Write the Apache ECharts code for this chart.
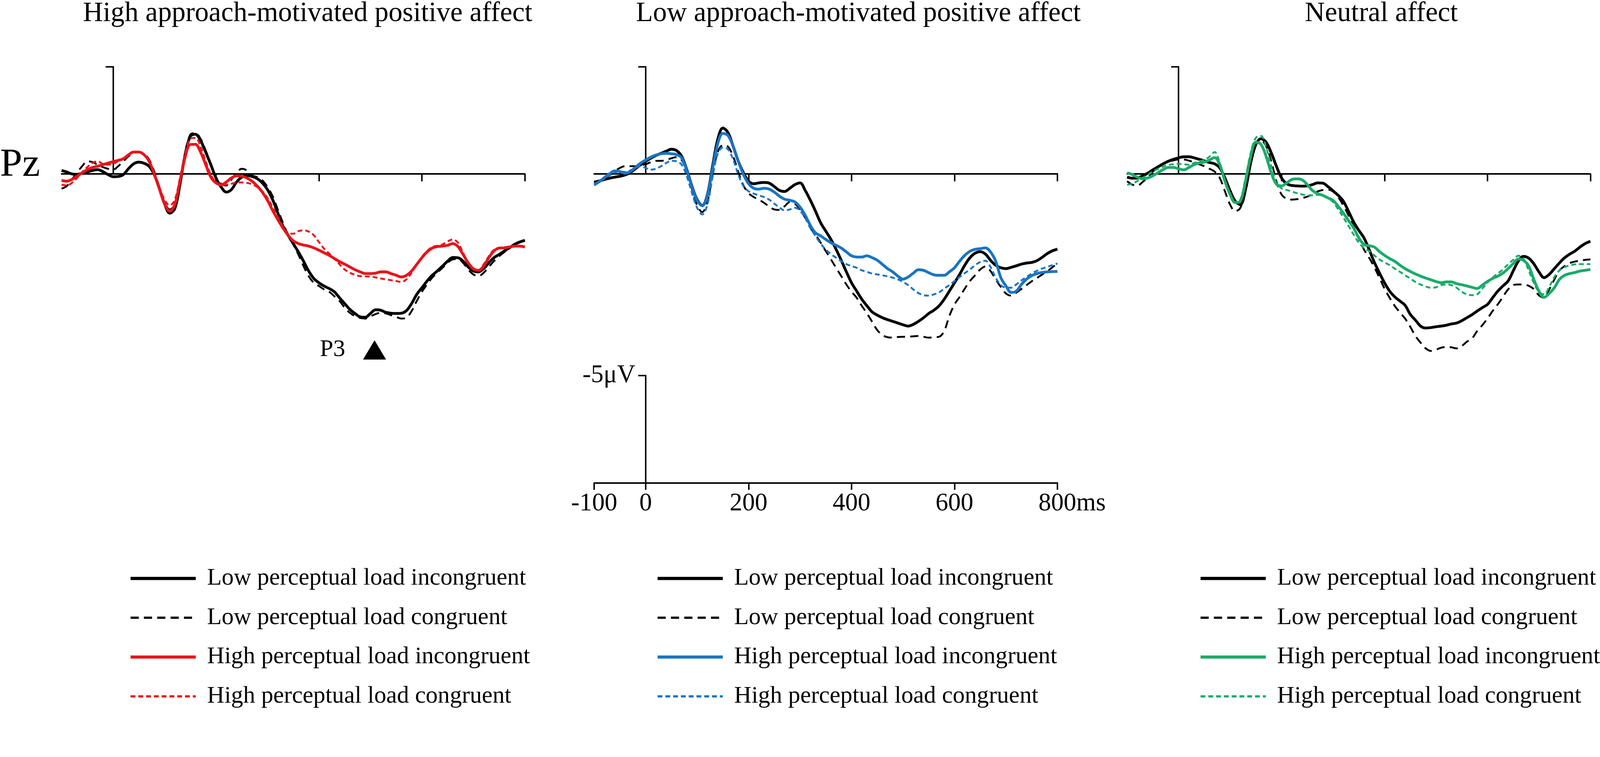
<!DOCTYPE html>
<html>
<head>
<meta charset="utf-8">
<script src="https://cdn.jsdelivr.net/npm/echarts@6/dist/echarts.min.js"></script>
<style>
html,body{margin:0;padding:0;background:#ffffff;overflow:hidden;}
#chart{width:100vw;height:100vh;}
</style>
</head>
<body>
<div id="chart"></div>
<script>
// ---- Data (μV, positive plotted downward; sampled every 10 ms) ----
const timesMs = [-100,-90,-80,-70,-60,-50,-40,-30,-20,-10,
  0,10,20,30,40,50,60,70,80,90,
  100,110,120,130,140,150,160,170,180,190,
  200,210,220,230,240,250,260,270,280,290,
  300,310,320,330,340,350,360,370,380,390,
  400,410,420,430,440,450,460,470,480,490,
  500,510,520,530,540,550,560,570,580,590,
  600,610,620,630,640,650,660,670,680,690,
  700,710,720,730,740,750,760,770,780,790,800];

const panelTitles = ['High approach-motivated positive affect','Low approach-motivated positive affect','Neutral affect'];
const conditionNames = ['Low perceptual load incongruent','Low perceptual load congruent','High perceptual load incongruent','High perceptual load congruent'];
const xTickValues = [200,400,600,800];
const scaleTickValues = [-100,0,200,400,600,800];
const p3Marker = [508, 8.21];

// Panel 1: High approach-motivated positive affect
const p1LowIncong = [-0.16,-0.09,0,0.02,-0.03,-0.09,-0.16,-0.2,-0.11,0.03,
  0.13,0.12,0.03,-0.24,-0.47,-0.55,-0.5,-0.36,0.03,0.69,
  1.39,1.83,1.62,0.5,-0.9,-1.75,-1.85,-1.56,-1.02,-0.43,
  0.19,0.61,0.85,0.73,0.38,0.15,0.07,0.12,0.22,0.42,
  0.73,1.2,1.82,2.44,2.86,3.25,3.64,4.07,4.53,4.88,
  5.08,5.23,5.35,5.5,5.78,6.05,6.32,6.51,6.67,6.69,
  6.51,6.34,6.36,6.46,6.5,6.51,6.5,6.38,6.05,5.62,
  5.31,5.0,4.73,4.53,4.3,4.07,3.9,3.91,4.07,4.34,
  4.53,4.57,4.42,4.15,3.91,3.76,3.6,3.45,3.29,3.18,3.1];
const p1LowCong = [0.69,0.57,0.26,-0.05,-0.36,-0.59,-0.55,-0.43,-0.32,-0.24,
  -0.2,-0.36,-0.59,-0.82,-0.98,-1.02,-0.94,-0.67,-0.12,0.61,
  1.31,1.66,1.43,0.42,-0.98,-1.83,-1.91,-1.64,-1.09,-0.47,
  0.15,0.46,0.54,0.26,-0.05,-0.24,-0.16,0.07,0.15,0.3,
  0.61,1.04,1.66,2.28,2.83,3.29,3.76,4.3,4.77,5.08,
  5.23,5.39,5.5,5.71,5.93,6.24,6.48,6.63,6.72,6.75,
  6.65,6.54,6.48,6.51,6.59,6.67,6.75,6.71,6.4,5.93,
  5.5,5.16,4.84,4.61,4.38,4.15,3.99,3.97,4.15,4.46,
  4.69,4.77,4.61,4.34,4.07,3.84,3.65,3.45,3.29,3.18,3.1];
const p1HighIncong = [0.3,0.34,0.26,0.11,-0.05,-0.2,-0.3,-0.36,-0.43,-0.5,
  -0.57,-0.63,-0.71,-0.89,-1.02,-1.02,-0.9,-0.59,0,0.69,
  1.39,1.74,1.43,0.34,-0.78,-1.37,-1.38,-1.02,-0.43,0.15,
  0.42,0.51,0.38,0.19,0.09,0.11,0.19,0.34,0.56,0.85,
  1.23,1.7,2.13,2.52,2.86,3.12,3.25,3.32,3.37,3.45,
  3.56,3.68,3.8,3.95,4.09,4.21,4.34,4.47,4.57,4.65,
  4.65,4.63,4.57,4.57,4.65,4.73,4.81,4.73,4.53,4.22,
  3.91,3.64,3.46,3.39,3.37,3.33,3.25,3.39,3.76,4.15,
  4.42,4.5,4.3,3.91,3.6,3.46,3.45,3.41,3.37,3.37,3.41];
const p1HighCong = [0.5,0.54,0.42,0.19,-0.09,-0.32,-0.51,-0.59,-0.47,-0.43,
  -0.47,-0.59,-0.71,-0.89,-1.0,-1.02,-0.92,-0.63,-0.05,0.61,
  1.2,1.47,1.2,0.19,-0.94,-1.64,-1.68,-1.29,-0.59,0.03,
  0.38,0.5,0.5,0.46,0.4,0.4,0.42,0.48,0.61,0.81,
  1.12,1.55,2.01,2.44,2.75,2.79,2.67,2.63,2.69,2.86,
  3.18,3.49,3.72,3.95,4.22,4.46,4.61,4.71,4.77,4.78,
  4.79,4.83,4.88,4.92,4.96,5.0,5.04,4.92,4.61,4.22,
  3.87,3.6,3.41,3.35,3.29,3.15,3.06,3.21,3.68,4.15,
  4.46,4.52,4.22,3.84,3.54,3.45,3.41,3.41,3.39,3.39,3.39];

// Panel 2: Low approach-motivated positive affect
const p2LowIncong = [0.38,0.33,0.26,0.2,0.15,0.11,0.05,-0.06,-0.24,-0.42,
  -0.59,-0.73,-0.86,-0.96,-1.06,-1.15,-1.09,-0.82,-0.2,0.57,
  1.2,1.47,0.96,-0.36,-1.6,-2.14,-1.93,-1.29,-0.59,-0.05,
  0.34,0.46,0.42,0.4,0.43,0.59,0.77,0.82,0.67,0.5,
  0.42,0.77,1.23,1.74,2.28,2.67,3.06,3.52,4.03,4.57,
  5.08,5.47,5.85,6.16,6.44,6.59,6.71,6.8,6.88,6.96,
  7.04,7.1,7.02,6.88,6.71,6.51,6.36,6.16,5.85,5.47,
  5.08,4.69,4.26,3.91,3.7,3.63,3.74,4.03,4.26,4.38,
  4.42,4.36,4.29,4.21,4.16,4.13,4.05,3.9,3.72,3.59,3.51];
const p2LowCong = [0.42,0.33,0.23,0.07,-0.12,-0.28,-0.36,-0.36,-0.36,-0.4,
  -0.45,-0.55,-0.61,-0.61,-0.65,-0.73,-0.78,-0.65,-0.09,0.73,
  1.47,1.78,1.31,0.03,-1.02,-1.34,-1.27,-0.82,-0.09,0.54,
  0.9,1.08,1.2,1.35,1.52,1.66,1.68,1.51,1.31,1.39,
  1.66,2.05,2.52,2.83,3.21,3.6,3.99,4.38,4.77,5.16,
  5.5,5.78,6.16,6.51,6.9,7.29,7.52,7.62,7.64,7.61,
  7.6,7.59,7.58,7.56,7.6,7.64,7.62,7.6,7.33,6.63,
  6.09,5.74,5.35,5.0,4.73,4.46,4.32,4.53,4.92,5.27,
  5.58,5.68,5.54,5.37,5.19,5.01,4.86,4.7,4.55,4.36,4.18];
const p2HighIncong = [0.5,0.36,0.17,-0.01,-0.14,-0.11,-0.03,-0.11,-0.3,-0.5,
  -0.65,-0.78,-0.88,-0.94,-0.96,-0.94,-0.9,-0.75,-0.16,0.61,
  1.23,1.49,1.0,-0.24,-1.41,-1.89,-1.79,-1.29,-0.59,0.03,
  0.46,0.67,0.71,0.67,0.71,0.85,1.04,1.18,1.23,1.31,
  1.55,1.93,2.4,2.75,2.89,3.06,3.21,3.33,3.46,3.64,
  3.82,3.88,3.88,3.82,3.91,4.03,4.22,4.42,4.57,4.77,
  4.91,4.81,4.63,4.47,4.5,4.61,4.71,4.73,4.73,4.57,
  4.38,4.07,3.8,3.61,3.52,3.49,3.45,3.64,4.07,4.84,
  5.23,5.53,5.47,5.16,4.91,4.75,4.65,4.6,4.57,4.56,4.55];
const p2HighCong = [0.54,0.38,0.23,0.07,-0.06,-0.12,-0.09,-0.16,-0.28,-0.36,
  -0.28,-0.2,-0.24,-0.36,-0.51,-0.61,-0.59,-0.43,0.11,0.89,
  1.58,1.89,1.43,0.15,-0.94,-1.23,-1.15,-0.67,0.03,0.57,
  0.81,0.92,1.0,1.08,1.2,1.39,1.57,1.7,1.66,1.58,
  1.72,2.05,2.52,2.9,3.25,3.53,3.74,3.91,4.07,4.21,
  4.3,4.38,4.5,4.57,4.65,4.69,4.73,4.78,4.84,4.92,
  5.04,5.19,5.39,5.56,5.66,5.68,5.62,5.53,5.35,5.19,
  5.0,4.81,4.63,4.46,4.26,4.11,4.05,4.34,4.84,5.19,
  5.31,5.31,5.16,4.97,4.81,4.65,4.52,4.42,4.34,4.26,4.18];

// Panel 3: Neutral affect
const p3LowIncong = [0.15,0.2,0.19,0.09,-0.03,-0.19,-0.33,-0.47,-0.59,-0.68,
  -0.75,-0.8,-0.8,-0.75,-0.68,-0.61,-0.53,-0.47,-0.28,0.19,
  0.79,1.27,1.43,0.73,-0.51,-1.37,-1.64,-1.48,-0.98,-0.36,
  0.19,0.46,0.54,0.56,0.57,0.56,0.5,0.42,0.43,0.59,
  0.79,1.0,1.27,1.74,2.24,2.63,2.98,3.52,4.11,4.61,
  5.08,5.47,5.74,5.93,6.13,6.55,6.82,7.1,7.19,7.17,
  7.13,7.1,7.06,7.0,6.96,6.85,6.71,6.57,6.4,6.24,
  6.09,5.78,5.47,5.23,5.0,4.53,4.07,3.85,3.93,4.19,
  4.57,4.84,4.69,4.42,4.15,3.91,3.74,3.6,3.41,3.25,3.14];
const p3LowCong = [0.34,0.5,0.54,0.38,0.15,-0.11,-0.3,-0.45,-0.57,-0.63,
  -0.67,-0.67,-0.62,-0.54,-0.45,-0.36,-0.24,-0.11,0.19,0.81,
  1.43,1.74,1.58,0.73,-0.59,-1.44,-1.56,-1.29,-0.59,0.34,
  0.96,1.16,1.2,1.18,1.13,1.06,0.95,0.82,0.75,0.73,
  0.82,1.08,1.47,1.93,2.44,3.02,3.52,3.91,4.34,4.84,
  5.35,5.78,6.16,6.47,6.75,7.13,7.56,7.87,8.14,8.26,
  8.2,8.11,8.07,8.09,8.14,8.03,7.83,7.68,7.33,7.06,
  6.75,6.4,6.09,5.74,5.39,5.19,5.16,5.16,5.22,5.37,
  5.66,5.78,5.39,4.92,4.5,4.3,4.16,4.09,4.05,4.01,3.99];
const p3HighIncong = [-0.05,0.03,0.15,0.23,0.19,0.09,-0.06,-0.2,-0.3,-0.3,
  -0.24,-0.19,-0.3,-0.43,-0.51,-0.55,-0.65,-0.76,-0.43,0.34,
  0.96,1.34,1.27,0.34,-0.82,-1.48,-1.38,-0.82,-0.05,0.48,
  0.56,0.42,0.26,0.23,0.28,0.5,0.77,0.92,1.0,1.12,
  1.23,1.51,1.82,2.17,2.52,2.98,3.29,3.35,3.41,3.62,
  3.8,3.95,4.08,4.26,4.42,4.55,4.67,4.77,4.86,4.94,
  5.02,5.08,5.04,5.04,5.12,5.17,5.23,5.29,5.35,5.19,
  5.02,4.88,4.77,4.63,4.42,4.19,3.97,4.03,4.3,4.92,
  5.47,5.76,5.58,5.31,4.92,4.73,4.65,4.6,4.53,4.5,4.46];
const p3HighCong = [0.5,0.46,0.33,0.19,0.05,-0.11,-0.23,-0.34,-0.42,-0.45,
  -0.47,-0.45,-0.43,-0.51,-0.59,-0.65,-0.81,-1.02,-0.51,0.34,
  0.96,1.31,1.2,0.19,-0.98,-1.68,-1.77,-1.25,-0.36,0.42,
  0.67,0.75,0.82,0.9,0.96,1.0,1.0,0.98,1.0,1.12,
  1.31,1.65,2.03,2.42,2.83,3.21,3.45,3.6,3.8,3.99,
  4.13,4.26,4.42,4.57,4.73,4.88,5.04,5.16,5.25,5.31,
  5.29,5.19,5.16,5.19,5.31,5.5,5.62,5.66,5.62,5.35,
  5.08,4.84,4.65,4.46,4.22,4.01,3.82,3.95,4.5,5.08,
  5.5,5.62,5.27,4.81,4.5,4.35,4.27,4.22,4.21,4.21,4.21];

const panelData = [
  [p1LowIncong, p1LowCong, p1HighIncong, p1HighCong],
  [p2LowIncong, p2LowCong, p2HighIncong, p2HighCong],
  [p3LowIncong, p3LowCong, p3HighIncong, p3HighCong]
];
const highColors = ['#e8141c', '#1a74c2', '#1aab6a'];

// ---- Layout (designed for 4317 x 1937, scaled to the actual viewport) ----
const el = document.getElementById('chart');
const s = Math.min(el.clientWidth / 4317, el.clientHeight / 1937);
const S = v => v * s;
const FONT = "'Times New Roman','Liberation Serif',serif";
const zeroX = [305, 1742, 3180];     // x of 0 ms per panel (design px)
const PX_PER_MS = 1250 / 900;
const PX_PER_UV = 57.8;
const zeroY = 469;
const Y_MIN = -5, Y_MAX = 9;
const legendLeft = [348, 1770, 3235];
const titleX = [830, 2316, 3727];
const AXW = 4;

const grids = [], xAxes = [], yAxes = [], series = [], legends = [];
const gridLeft = p => zeroX[p] - 100 * PX_PER_MS;
const plotTop = zeroY + Y_MIN * PX_PER_UV;
const axisLineStyle = {color: '#000', width: S(AXW)};

function addGrid(g, xa, ya) {
  const idx = grids.length;
  grids.push(g);
  xa.gridIndex = idx; ya.gridIndex = idx;
  xAxes.push(xa); yAxes.push(ya);
  return idx;
}

const dataGridIdx = [];
for (let p = 0; p < 3; p++) {
  dataGridIdx.push(addGrid(
    {left: S(gridLeft(p)), width: S(1250), top: S(plotTop), height: S((Y_MAX - Y_MIN) * PX_PER_UV)},
    {type: 'value', min: -100, max: 800,
     axisLine: {show: true, onZero: true, lineStyle: axisLineStyle},
     axisTick: {show: true, customValues: xTickValues, length: S(20), lineStyle: axisLineStyle},
     axisLabel: {show: false}, splitLine: {show: false}},
    {type: 'value', min: Y_MIN, max: Y_MAX, inverse: true, show: false, splitLine: {show: false}}
  ));
  // vertical -5 μV stub at 0 ms
  addGrid(
    {left: S(zeroX[p]), width: S(100), top: S(plotTop), height: S(5 * PX_PER_UV)},
    {type: 'value', min: 0, max: 100, show: false},
    {type: 'value', min: -5, max: 0, inverse: true, position: 'left',
     axisLine: {show: true, onZero: false, lineStyle: axisLineStyle},
     axisTick: {show: true, customValues: [-5], length: S(20), lineStyle: axisLineStyle},
     axisLabel: {show: false}, splitLine: {show: false}}
  );
}
// scale bar: time axis
addGrid(
  {left: S(gridLeft(1)), width: S(1250), top: S(1013), height: S(5 * PX_PER_UV)},
  {type: 'value', min: -100, max: 800, position: 'bottom',
   axisLine: {show: true, onZero: false, lineStyle: axisLineStyle},
   axisTick: {show: true, customValues: scaleTickValues, length: S(19), lineStyle: axisLineStyle},
   axisLabel: {show: true, customValues: scaleTickValues, margin: S(22), color: '#000', fontSize: S(68), fontFamily: FONT,
     formatter: v => v === 800 ? '{p| }800ms' : String(v), rich: {p: {width: S(79)}}},
   splitLine: {show: false}},
  {type: 'value', min: -5, max: 0, inverse: true, show: false}
);
// scale bar: -5 μV axis
addGrid(
  {left: S(zeroX[1]), width: S(100), top: S(1013), height: S(5 * PX_PER_UV)},
  {type: 'value', min: 0, max: 100, show: false},
  {type: 'value', min: -5, max: 0, inverse: true, position: 'left',
   axisLine: {show: true, onZero: false, lineStyle: axisLineStyle},
   axisTick: {show: true, customValues: [-5], length: S(20), lineStyle: axisLineStyle},
   axisLabel: {show: true, customValues: [-5], formatter: () => '-5μV', margin: S(28), color: '#000', fontSize: S(68), fontFamily: FONT},
   splitLine: {show: false}}
);

// series + legends
for (let p = 0; p < 3; p++) {
  const legendItems = [];
  panelData[p].forEach((vals, k) => {
    const isHigh = k >= 2;
    const dashed = k % 2 === 1;
    const color = isHigh ? highColors[p] : '#000000';
    const name = conditionNames[k] + '#' + p;
    const dash = dashed ? (isHigh ? [S(13), S(8)] : [S(22), S(14)]) : 'solid';
    const width = dashed ? S(5) : S(7.5);
    legendItems.push({name: name, lineStyle: {color: color, width: dashed ? S(6) : S(8.5), type: dash}});
    series.push({
      type: 'line', name: name, xAxisIndex: dataGridIdx[p], yAxisIndex: dataGridIdx[p],
      data: timesMs.map((t, i) => [t, vals[i]]),
      symbol: 'none', showSymbol: false, smooth: 0.35,
      lineStyle: {color: color, width: width, type: dash, cap: 'butt'},
      itemStyle: {color: color},
      z: 3 + k, silent: true
    });
  });
  legends.push({
    left: S(legendLeft[p]), top: S(1527), orient: 'vertical', padding: 0,
    itemWidth: S(176), itemHeight: S(20), itemGap: S(40), selectedMode: false,
    data: legendItems, formatter: n => n.split('#')[0],
    itemStyle: {opacity: 0},
    textStyle: {color: '#000', fontSize: S(65), fontFamily: FONT, lineHeight: S(66), padding: [0, 0, 0, S(25)]}
  });
}
// P3 marker in panel 1
series.push({
  type: 'scatter', name: 'P3', xAxisIndex: dataGridIdx[0], yAxisIndex: dataGridIdx[0],
  data: [p3Marker], symbol: 'triangle', symbolSize: [S(62), S(52)],
  itemStyle: {color: '#000000', opacity: 1}, silent: true, z: 10,
  label: {show: true, position: 'left', distance: S(48), formatter: 'P3', color: '#000', fontSize: S(65), fontFamily: FONT}
});

const graphics = panelTitles.map((t, p) => ({
  type: 'text', x: S(titleX[p]), y: S(37),
  style: {text: t, fill: '#000', font: S(75) + 'px ' + FONT, textAlign: 'center', textVerticalAlign: 'middle'}
}));
graphics.push({
  type: 'text', x: 0, y: S(446),
  style: {text: 'Pz', fill: '#000', font: S(108) + 'px ' + FONT, textAlign: 'left', textVerticalAlign: 'middle'}
});

const chart = echarts.init(el, null, {renderer: 'canvas'});
chart.setOption({
  backgroundColor: '#ffffff',
  animation: false,
  grid: grids,
  xAxis: xAxes,
  yAxis: yAxes,
  legend: legends,
  series: series,
  graphic: graphics
});
</script>
</body>
</html>
